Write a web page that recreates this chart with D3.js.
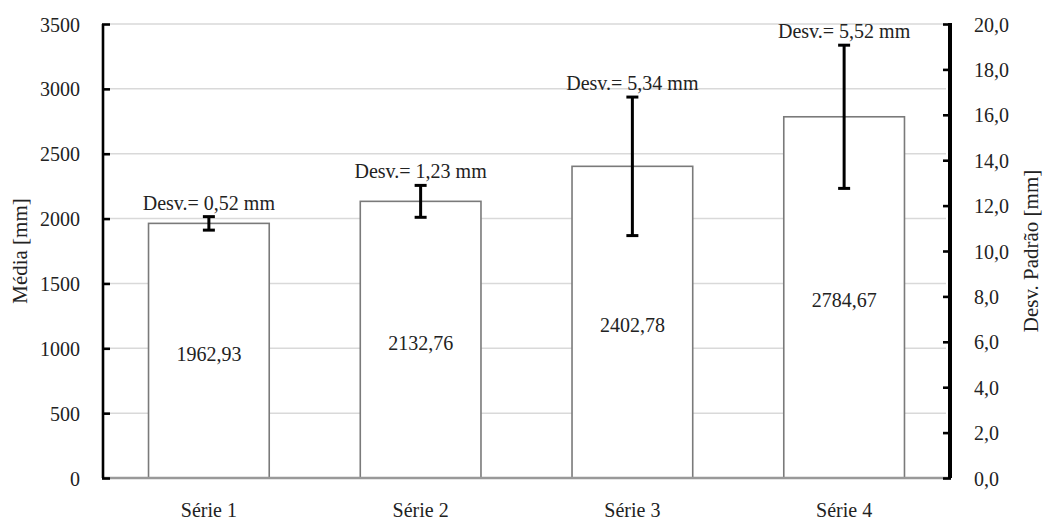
<!DOCTYPE html>
<html>
<head>
<meta charset="utf-8">
<script src="https://cdn.jsdelivr.net/npm/d3@7/dist/d3.min.js"></script>
<style>
  html, body { margin: 0; padding: 0; background: #fff; }
  svg { display: block; }
  text { font-family: "Liberation Serif", "DejaVu Serif", serif; fill: #222; }
</style>
</head>
<body>
<svg id="chart" width="1045" height="521"></svg>
<script>
// Séries e valores
const categorias = ["Série 1", "Série 2", "Série 3", "Série 4"];
const medias = [1962.93, 2132.76, 2402.78, 2784.67];   // média [mm]
const desvios = [0.52, 1.23, 5.34, 5.52];             // desvio padrão [mm]
const ticksMedia = [0, 500, 1000, 1500, 2000, 2500, 3000, 3500];
const ticksDesvio = [0, 2, 4, 6, 8, 10, 12, 14, 16, 18, 20];

// comprimento da barra de erro no eixo da média: desvio × 100
const ESCALA_ERRO = 100;

const margem = { esq: 103, dir: 950, sup: 24, inf: 478 };
const serif = "'Liberation Serif', 'DejaVu Serif', serif";

const fmt2 = v => v.toFixed(2).replace(".", ",");
const fmt1 = v => v.toFixed(1).replace(".", ",");

const svg = d3.select("#chart");

const x = d3.scaleBand().domain(categorias).range([margem.esq, margem.dir])
  .paddingInner(0.43).paddingOuter(0.215);
const y = d3.scaleLinear().domain([0, 3500]).range([margem.inf, margem.sup]);
const y2 = d3.scaleLinear().domain([0, 20]).range([margem.inf, margem.sup]);

// linhas de grade
svg.append("g").selectAll("line")
  .data(ticksMedia.filter(d => d > 0))
  .join("line")
  .attr("x1", margem.esq + 7).attr("x2", margem.dir - 4)
  .attr("y1", d => y(d)).attr("y2", d => y(d))
  .attr("stroke", "#d9d9d9").attr("stroke-width", 1.5);

// barras
const barras = svg.append("g");
barras.selectAll("rect")
  .data(medias)
  .join("rect")
  .attr("x", (d, i) => x(categorias[i]))
  .attr("width", x.bandwidth())
  .attr("y", d => y(d))
  .attr("height", d => y(0) - y(d))
  .attr("fill", "#fff")
  .attr("stroke", "#7a7a7a")
  .attr("stroke-width", 1.6);

// rótulos de valor no meio das barras
barras.selectAll("text")
  .data(medias)
  .join("text")
  .attr("x", (d, i) => x(categorias[i]) + x.bandwidth() / 2)
  .attr("y", d => y(d / 2))
  .attr("dy", "0.5em")
  .attr("text-anchor", "middle")
  .attr("font-size", 20)
  .style("font-family", serif)
  .text(d => fmt2(d));

// eixo horizontal
svg.append("line")
  .attr("x1", margem.esq).attr("x2", margem.dir)
  .attr("y1", margem.inf).attr("y2", margem.inf)
  .attr("stroke", "#999").attr("stroke-width", 2.5);

const axX = svg.append("g")
  .attr("transform", `translate(0,${margem.inf})`)
  .call(d3.axisBottom(x).tickSize(0).tickPadding(0));
axX.select(".domain").remove();
axX.selectAll("text")
  .attr("font-size", 20)
  .attr("fill", "#222")
  .attr("y", 39)
  .attr("dy", 0)
  .style("font-family", serif);

// eixo esquerdo (média)
const axL = svg.append("g")
  .attr("transform", `translate(${margem.esq},0)`)
  .call(d3.axisRight(y).tickValues(ticksMedia).tickSize(7).tickFormat(d3.format("d")));
axL.select(".domain").attr("stroke", "#000").attr("stroke-width", 2.6)
  .attr("d", `M0,${margem.inf}V${margem.sup}`);
axL.selectAll(".tick line").attr("stroke", "#000").attr("stroke-width", 2.6)
  .attr("x1", -1);
axL.selectAll(".tick text")
  .attr("x", -23)
  .attr("dy", "0.35em")
  .attr("text-anchor", "end")
  .attr("font-size", 20)
  .attr("fill", "#222")
  .style("font-family", serif);

// eixo direito (desvio padrão)
const axR = svg.append("g")
  .attr("transform", `translate(${margem.dir},0)`)
  .call(d3.axisLeft(y2).tickValues(ticksDesvio).tickSize(7).tickFormat(fmt1));
axR.select(".domain").attr("stroke", "#000").attr("stroke-width", 4)
  .attr("d", `M0,${margem.inf}V${margem.sup - 1}`);
axR.selectAll(".tick line").attr("stroke", "#000").attr("stroke-width", 2.6)
  .attr("x1", 1);
axR.selectAll(".tick text")
  .attr("x", 24)
  .attr("dy", "0.35em")
  .attr("text-anchor", "start")
  .attr("font-size", 20)
  .attr("fill", "#222")
  .style("font-family", serif);

// barras de erro
const erros = svg.append("g").attr("stroke", "#000").attr("stroke-width", 3);
const cx = i => x(categorias[i]) + x.bandwidth() / 2;
medias.forEach((m, i) => {
  const e = desvios[i] * ESCALA_ERRO;
  const yt = y(m + e), yb = y(m - e);
  erros.append("line").attr("x1", cx(i)).attr("x2", cx(i)).attr("y1", yt).attr("y2", yb);
  erros.append("line").attr("x1", cx(i) - 6).attr("x2", cx(i) + 6).attr("y1", yt).attr("y2", yt);
  erros.append("line").attr("x1", cx(i) - 6).attr("x2", cx(i) + 6).attr("y1", yb).attr("y2", yb);
});

// rótulos do desvio
svg.append("g").selectAll("text")
  .data(desvios)
  .join("text")
  .attr("x", (d, i) => cx(i))
  .attr("y", (d, i) => y(medias[i] + d * ESCALA_ERRO) - 7)
  .attr("text-anchor", "middle")
  .attr("font-size", 20)
  .style("font-family", serif)
  .text(d => `Desv.= ${fmt2(d)} mm`);

// títulos dos eixos
svg.append("text")
  .attr("transform", `translate(27,${(margem.sup + margem.inf) / 2}) rotate(-90)`)
  .attr("text-anchor", "middle")
  .attr("font-size", 21)
  .style("font-family", serif)
  .text("Média [mm]");

svg.append("text")
  .attr("transform", `translate(1038,${(margem.sup + margem.inf) / 2}) rotate(-90)`)
  .attr("text-anchor", "middle")
  .attr("font-size", 21)
  .style("font-family", serif)
  .text("Desv. Padrão [mm]");
</script>
</body>
</html>
